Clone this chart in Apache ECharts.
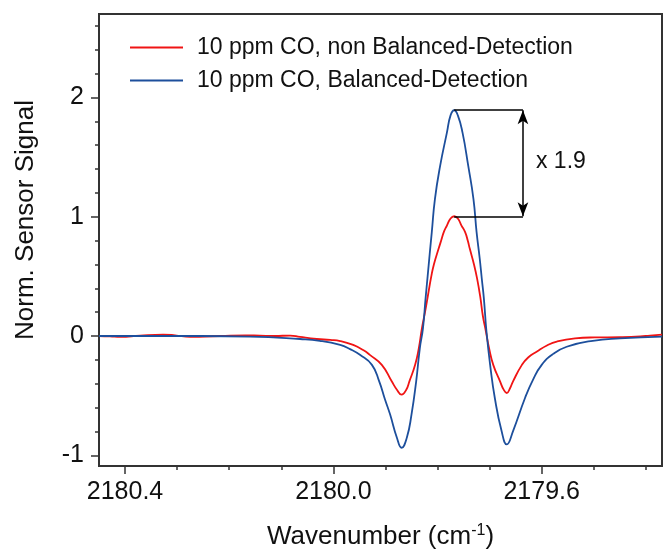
<!DOCTYPE html>
<html>
<head>
<meta charset="utf-8">
<title>Balanced detection</title>
<script src="https://cdn.jsdelivr.net/npm/echarts@6/dist/echarts.min.js"></script>
<style>
    html, body { margin: 0; padding: 0; background: #fff; }
    #main_chart { width: 663px; height: 555px; }
</style>
</head>
<body>
<div id="main_chart"></div>
<script>
// values
var redWavenumber = [2180.450, 2180.429, 2180.409, 2180.371, 2180.327, 2180.304, 2180.275, 2180.246, 2180.217, 2180.169,
    2180.141, 2180.112, 2180.083, 2180.064, 2180.032, 2180.006, 2179.987, 2179.962, 2179.942, 2179.930,
    2179.907, 2179.888, 2179.878, 2179.869, 2179.860, 2179.854, 2179.843, 2179.836,
    2179.830, 2179.824, 2179.818, 2179.812, 2179.807, 2179.798, 2179.793, 2179.788, 2179.782, 2179.775,
    2179.768, 2179.761, 2179.754, 2179.747, 2179.742, 2179.738, 2179.730, 2179.724, 2179.718, 2179.713,
    2179.707, 2179.701, 2179.693, 2179.680, 2179.673, 2179.667, 2179.661, 2179.655, 2179.638, 2179.626,
    2179.609, 2179.590, 2179.571, 2179.536, 2179.498, 2179.450, 2179.411, 2179.392, 2179.369];
var redSignal = [0.0, -0.003, -0.008, 0.004, 0.012, 0.006, -0.008, -0.004, 0.0, 0.006,
    0.003, 0.0, 0.004, -0.008, -0.025, -0.033, -0.042, -0.075, -0.12, -0.158,
    -0.242, -0.38, -0.45, -0.492, -0.45, -0.38, -0.242, -0.103,
    0.064, 0.2, 0.35, 0.5, 0.6, 0.731, 0.8, 0.871, 0.926, 0.985,
    1.004, 0.985, 0.926, 0.871, 0.8, 0.731, 0.6, 0.481, 0.33, 0.17,
    0.036, -0.103, -0.242, -0.38, -0.45, -0.478, -0.44, -0.38, -0.242, -0.18,
    -0.13, -0.08, -0.047, -0.02, -0.012, -0.01, -0.004, 0.004, 0.012];

var blueWavenumber = [2180.450, 2180.352, 2180.256, 2180.160, 2180.064, 2180.026, 2179.987, 2179.968, 2179.949, 2179.926,
    2179.912, 2179.901, 2179.891, 2179.878, 2179.869, 2179.859, 2179.850, 2179.841, 2179.834,
    2179.828, 2179.823, 2179.819, 2179.815, 2179.811, 2179.805, 2179.795, 2179.782, 2179.775, 2179.768,
    2179.761, 2179.752, 2179.741, 2179.731, 2179.725, 2179.719, 2179.715, 2179.711, 2179.706,
    2179.699, 2179.690, 2179.677, 2179.667, 2179.655, 2179.632, 2179.617, 2179.600, 2179.578, 2179.552,
    2179.502, 2179.450, 2179.369];
var blueSignal = [0.0, 0.0, 0.0, -0.005, -0.025, -0.04, -0.075, -0.11, -0.158, -0.242,
    -0.38, -0.53, -0.659, -0.853, -0.937, -0.853, -0.659, -0.38, -0.103,
    0.064, 0.314, 0.5, 0.69, 0.871, 1.148, 1.426, 1.705, 1.85, 1.893,
    1.85, 1.705, 1.426, 1.148, 0.871, 0.65, 0.48, 0.314, 0.036,
    -0.242, -0.52, -0.797, -0.909, -0.797, -0.52, -0.37, -0.242, -0.15, -0.09,
    -0.04, -0.02, -0.005];

var seriesNames = ['10 ppm CO, non Balanced-Detection', '10 ppm CO, Balanced-Detection'];
var xMajorTicks = [2180.4, 2180.0, 2179.6];
var xMinorTicks = [2180.3, 2180.2, 2180.1, 2179.9, 2179.8, 2179.7, 2179.5, 2179.4];
var yMajorTicks = [-1, 0, 1, 2];
var yMinorTicks = [-0.8, -0.6, -0.4, -0.2, 0.2, 0.4, 0.6, 0.8, 1.2, 1.4, 1.6, 1.8, 2.2, 2.4, 2.6];
var ratioLabel = 'x 1.9';
var bracketWavenumber = 2179.636;

var fontName = '"Liberation Sans", Arial, sans-serif';
var axisColor = '#333';

function pairs(xs, ys) {
    var list = [];
    for (var i = 0; i < xs.length; i++) {
        list.push([xs[i], ys[i]]);
    }
    return list;
}

function peakOf(xs, ys) {
    var best = 0;
    for (var i = 1; i < ys.length; i++) {
        if (ys[i] > ys[best]) best = i;
    }
    return [xs[best], ys[best]];
}

var redPeak = peakOf(redWavenumber, redSignal);
var bluePeak = peakOf(blueWavenumber, blueSignal);

var mainChart = echarts.init(document.getElementById('main_chart'));

var xAxisBase = {
    type: 'value',
    inverse: true,
    min: 2179.369,
    max: 2180.450,
    position: 'bottom',
    splitLine: {show: false}
};
var yAxisBase = {
    type: 'value',
    min: -1.09,
    max: 2.7,
    position: 'left',
    splitLine: {show: false}
};

var options = {
    animation: false,
    grid: {
        left: 99,
        right: 1,
        top: 14,
        bottom: 87,
        show: true,
        borderColor: axisColor,
        borderWidth: 2
    },
    legend: {
        orient: 'vertical',
        left: 130,
        top: 36,
        padding: 0,
        icon: 'rect',
        itemWidth: 53,
        itemHeight: 2,
        itemGap: 10,
        textStyle: {
            fontFamily: fontName,
            fontSize: 23,
            lineHeight: 23,
            color: '#111',
            padding: [0, 0, 0, 9]
        },
        data: seriesNames
    },
    xAxis: [
        Object.assign({}, xAxisBase, {
            axisLine: {show: true, onZero: false, lineStyle: {color: axisColor, width: 2}},
            axisTick: {show: true, customValues: xMajorTicks, length: 8, lineStyle: {color: axisColor, width: 1.5}},
            axisLabel: {
                customValues: xMajorTicks,
                formatter: function (value) {
                    return value.toFixed(1);
                },
                fontFamily: fontName,
                fontSize: 25,
                color: '#111',
                margin: 14
            },
            name: '{a|Wavenumber (cm}{s|-1}{a|)}',
            nameLocation: 'middle',
            nameGap: 57,
            nameTextStyle: {
                rich: {
                    a: {fontFamily: fontName, fontSize: 26, color: '#111'},
                    s: {fontFamily: fontName, fontSize: 16, color: '#111', padding: [0, 0, 12, 0]}
                }
            }
        }),
        Object.assign({}, xAxisBase, {
            axisLine: {show: false, onZero: false},
            axisTick: {show: true, customValues: xMinorTicks, length: 4, lineStyle: {color: axisColor, width: 1.5}},
            axisLabel: {show: false}
        })
    ],
    yAxis: [
        Object.assign({}, yAxisBase, {
            axisLine: {show: true, onZero: false, lineStyle: {color: axisColor, width: 2}},
            axisTick: {show: true, customValues: yMajorTicks, length: 8, lineStyle: {color: axisColor, width: 1.5}},
            axisLabel: {
                customValues: yMajorTicks,
                fontFamily: fontName,
                fontSize: 25,
                color: '#111',
                margin: 15
            }
        }),
        Object.assign({}, yAxisBase, {
            axisLine: {show: false, onZero: false},
            axisTick: {show: true, customValues: yMinorTicks, length: 4, lineStyle: {color: axisColor, width: 1.5}},
            axisLabel: {show: false}
        })
    ],
    graphic: [{
        type: 'text',
        x: 26,
        y: 220,
        rotation: Math.PI / 2,
        style: {
            text: 'Norm. Sensor Signal',
            fontFamily: fontName,
            fontSize: 26,
            fill: '#111',
            align: 'center',
            verticalAlign: 'middle'
        }
    }],
    series: [{
        name: seriesNames[0],
        type: 'line',
        color: '#f01414',
        showSymbol: false,
        symbol: 'none',
        smooth: 0.5,
        lineStyle: {width: 1.8},
        data: pairs(redWavenumber, redSignal)
    }, {
        name: seriesNames[1],
        type: 'line',
        color: '#1d4f9c',
        showSymbol: false,
        symbol: 'none',
        smooth: 0.5,
        lineStyle: {width: 1.8},
        data: pairs(blueWavenumber, blueSignal),
        markLine: {
            silent: true,
            symbol: 'none',
            lineStyle: {color: '#000', width: 1.5, type: 'solid'},
            label: {show: false},
            emphasis: {disabled: true},
            data: [
                [{coord: bluePeak}, {coord: [bracketWavenumber, bluePeak[1]]}],
                [{coord: redPeak}, {coord: [bracketWavenumber, redPeak[1]]}],
                [{coord: [bracketWavenumber, redPeak[1]], symbol: 'arrow', symbolSize: [8, 14]},
                 {coord: [bracketWavenumber, bluePeak[1]], symbol: 'arrow', symbolSize: [8, 14]}]
            ]
        },
        markPoint: {
            silent: true,
            symbol: 'circle',
            symbolSize: 0,
            label: {
                show: true,
                position: 'right',
                distance: 0,
                formatter: ratioLabel,
                fontFamily: fontName,
                fontSize: 23,
                color: '#111'
            },
            data: [{coord: [2179.611, (bluePeak[1] + redPeak[1]) / 2 + 0.01]}]
        }
    }]
};
mainChart.setOption(options);
</script>
</body>
</html>
